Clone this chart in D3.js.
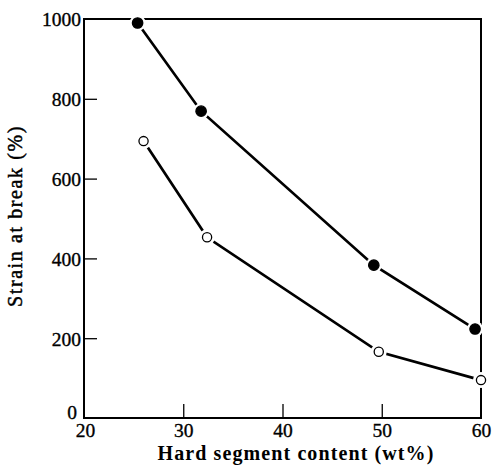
<!DOCTYPE html>
<html><head><meta charset="utf-8">
<script src="https://cdn.jsdelivr.net/npm/d3@7"></script>
<style>body{margin:0;background:#fff}svg{display:block}</style>
</head><body>
<svg id="c" width="492" height="465"></svg>
<script>
const filledX = [25.4, 31.8, 49.2, 59.4];
const filledY = [990, 769, 383, 223];
const openX = [26.0, 32.4, 49.7, 60.0];
const openY = [694, 453, 166, 95];
const xTicks = [20, 30, 40, 50, 60];
const yTicks = [0, 200, 400, 600, 800, 1000];

const svg = d3.select("#c");
const L = 84, R = 481, T = 19, B = 418;
const x = d3.scaleLinear().domain([20, 60]).range([L, R]);
const y = d3.scaleLinear().domain([0, 1000]).range([B, T]);
const font = "'Liberation Serif','Times New Roman',serif";

// frame
svg.append("rect").attr("x", L).attr("y", T).attr("width", R - L).attr("height", B - T)
  .attr("fill", "none").attr("stroke", "#000").attr("stroke-width", 2);

// axes
const xa = svg.append("g").attr("transform", `translate(0,${B})`)
  .call(d3.axisBottom(x).tickValues(xTicks).tickSize(-14).tickPadding(2).tickFormat(d3.format("d")));
const ya = svg.append("g").attr("transform", `translate(${L},0)`)
  .call(d3.axisLeft(y).tickValues(yTicks).tickSize(-13).tickPadding(3).tickFormat(d3.format("d")));
[xa, ya].forEach(a => {
  a.select(".domain").remove();
  a.selectAll(".tick line").attr("stroke", "#000").attr("stroke-width", 1.3);
  a.selectAll("text").attr("font-family", font).attr("font-size", 19.5).attr("fill", "#000")
    .attr("stroke", "#000").attr("stroke-width", 0.35);
});
xa.selectAll(".tick text").attr("dy", "0.85em");
xa.selectAll(".tick").filter(d => d === 20).select("text").attr("dx", "0.05em");
xa.selectAll(".tick").filter(d => d === 20 || d === 60).select("line").remove();
ya.selectAll(".tick").filter(d => d === 0 || d === 1000).select("line").remove();
ya.selectAll(".tick text").attr("dy", "0.35em");
ya.selectAll(".tick").filter(d => d === 0).select("text").attr("x", -7).attr("dy", "0.05em");

// titles
svg.append("text").attr("x", 296).attr("y", 460).attr("text-anchor", "middle")
  .attr("font-family", font).attr("font-size", 20).attr("font-weight", "bold")
  .attr("letter-spacing", 1.1).text("Hard segment content (wt%)");
svg.append("text").attr("transform", `translate(22,${216}) rotate(-90)`).attr("text-anchor", "middle")
  .attr("font-family", font).attr("font-size", 20).attr("letter-spacing", 1.6)
  .attr("stroke", "#000").attr("stroke-width", 0.45).text("Strain at break (%)");

const line = d3.line().x(d => x(d[0])).y(d => y(d[1]));
function series(xs, ys, filled) {
  const pts = xs.map((v, i) => [v, ys[i]]);
  svg.append("path").datum(pts).attr("d", line).attr("fill", "none")
    .attr("stroke", "#000").attr("stroke-width", 2.7);
  // gaps around markers
  svg.selectAll(null).data(pts).enter().append("circle")
    .attr("cx", d => x(d[0])).attr("cy", d => y(d[1])).attr("r", 8).attr("fill", "#fff");
  svg.selectAll(null).data(pts).enter().append("circle")
    .attr("cx", d => x(d[0])).attr("cy", d => y(d[1])).attr("r", filled ? 5.2 : 4.6)
    .attr("fill", filled ? "#000" : "#fff").attr("stroke", "#000").attr("stroke-width", 1.3);
}
series(filledX, filledY, true);
series(openX, openY, false);
</script>
</body></html>
